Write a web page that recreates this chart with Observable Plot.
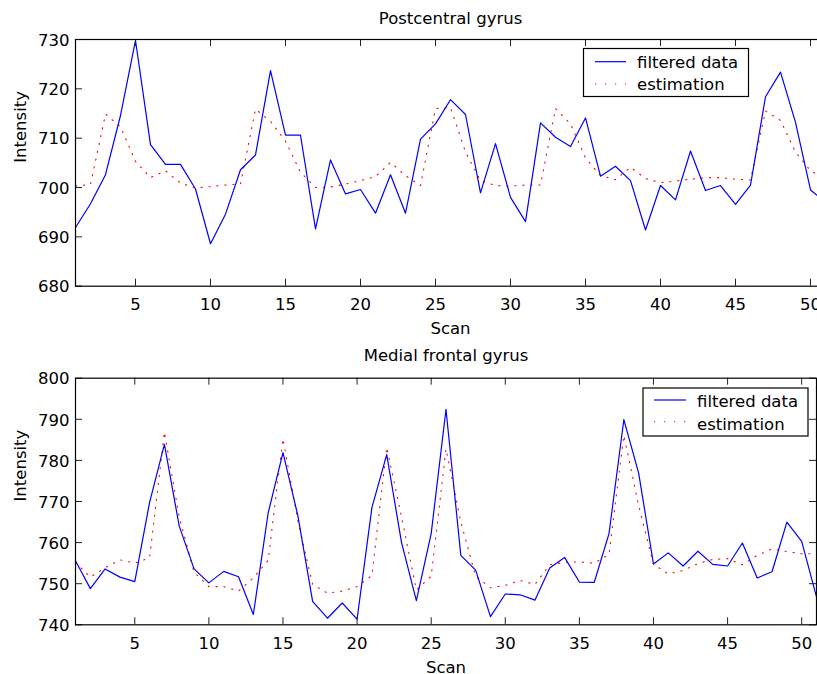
<!DOCTYPE html>
<html><head><meta charset="utf-8">
<script src="https://cdn.jsdelivr.net/npm/d3@7"></script>
<script src="https://cdn.jsdelivr.net/npm/@observablehq/plot@0.6"></script>
<style>
body{margin:0;background:#fff;overflow:hidden}
#page{position:relative;width:817px;height:674px;overflow:hidden;font-family:"DejaVu Sans",sans-serif;background:#fff}
.panel{position:absolute;left:0;width:817px;overflow:hidden}
#legend{position:absolute;left:0;top:0}
</style></head><body><div id="page"></div>
<script>
const scans = [1,2,3,4,5,6,7,8,9,10,11,12,13,14,15,16,17,18,19,20,21,22,23,24,25,26,27,28,29,30,31,32,33,34,35,36,37,38,39,40,41,42,43,44,45,46,47,48,49,50,51];

const topFiltered = [691.9,696.7,702.6,714.6,729.8,708.7,704.7,704.7,699.7,688.6,694.6,703.6,706.6,723.7,710.6,710.6,691.6,705.6,698.7,699.6,694.8,702.6,694.8,709.8,712.9,717.8,714.8,698.9,708.9,698.0,693.1,713.1,710.2,708.3,714.1,702.3,704.3,701.4,691.4,700.4,697.5,707.4,699.4,700.4,696.6,700.5,718.4,723.4,713.2,699.5,697.0];
const topEstimation = [700.3,700.6,714.9,712.3,705.3,702.0,703.4,700.9,699.9,700.2,700.5,700.7,715.9,713.4,709.4,703.1,700.0,700.1,700.7,701.4,702.2,705.1,702.4,700.4,716.0,716.2,707.2,701.4,700.4,700.3,700.5,700.5,716.0,712.9,706.0,702.4,701.6,704.1,701.8,701.0,701.3,701.7,702.0,702.0,701.7,701.5,715.5,713.6,707.2,703.4,701.8];

const bottomFiltered = [755.6,748.8,753.6,751.6,750.5,769.8,783.9,764.0,753.6,750.2,753.0,751.7,742.5,767.2,781.9,766.6,745.7,741.6,745.3,741.4,768.5,781.4,760.0,745.9,762.2,792.4,756.9,753.3,742.0,747.5,747.3,746.0,753.8,756.4,750.4,750.3,762.2,789.9,776.9,754.8,757.5,754.3,757.9,754.7,754.3,759.9,751.4,752.9,765.0,760.3,746.8];
const bottomEstimation = [755.2,751.6,753.9,755.8,755.0,756.3,786.9,766.2,752.8,749.3,749.3,748.2,751.4,755.7,785.3,765.4,749.8,747.7,748.2,749.3,752.0,783.2,766.2,748.5,751.8,782.8,765.0,751.8,749.0,749.6,750.8,749.8,754.6,755.2,755.3,755.0,757.1,786.1,769.0,754.7,752.4,753.2,754.9,755.9,756.1,754.6,756.9,758.5,757.8,757.3,757.3];

const xTicks = [5,10,15,20,25,30,35,40,45,50];
const topYTicks = [680,690,700,710,720,730];
const bottomYTicks = [740,750,760,770,780,790,800];
const seriesNames = ["filtered data","estimation"];
const panelTitles = ["Postcentral gyrus","Medial frontal gyrus"];
const xLabel = "Scan";
const yLabel = "Intensity";

function panel(o) {
  const rows = scans.map((s,i)=>({scan:s, f:o.filtered[i], e:o.estimation[i]}));
  const plotH = o.height - o.mt - o.mb;
  const plotW = o.width - 75 - o.mr;
  return Plot.plot({
    width:o.width, height:o.height,
    marginLeft:75, marginRight:o.mr, marginTop:o.mt, marginBottom:o.mb,
    style:{fontFamily:"DejaVu Sans", fontSize:"16.5px", background:"white", color:"black", maxWidth:"none", overflow:"visible"},
    x:{domain:[1,51], axis:null},
    y:{domain:o.yDomain, axis:null},
    marks:[
      Plot.line(rows,{x:"scan",y:"e",stroke:"#ff0000",strokeWidth:1.1,strokeDasharray:"1.2 6.8"}),
      Plot.line(rows,{x:"scan",y:"f",stroke:"#0000ff",strokeWidth:1.2}),
      Plot.tickX(xTicks,{x:d=>d, insetTop:plotH-7, stroke:"#222"}),
      Plot.tickX(xTicks,{x:d=>d, insetBottom:plotH-7, stroke:"#222"}),
      Plot.tickY(o.yTicks,{y:d=>d, insetRight:plotW-7, stroke:"#222"}),
      Plot.tickY(o.yTicks,{y:d=>d, insetLeft:plotW-7, stroke:"#222"}),
      Plot.frame({stroke:"black", strokeWidth:1.2}),
      Plot.text(xTicks,{x:d=>d, text:d=>String(d), frameAnchor:"bottom", dy:18.7, lineAnchor:"middle", fill:"black"}),
      Plot.text(o.yTicks,{y:d=>d, text:d=>String(d), frameAnchor:"left", dx:-6, dy:1, textAnchor:"end", lineAnchor:"middle", fill:"black"}),
      Plot.text([o.title],{frameAnchor:"top", dy:o.titleDy, lineAnchor:"middle", fill:"black"}),
      Plot.text([xLabel],{frameAnchor:"bottom", dy:o.xLabelDy, lineAnchor:"middle", fill:"black"}),
      Plot.text([yLabel],{frameAnchor:"left", dx:-55, rotate:-90, lineAnchor:"middle", fill:"black"})
    ]
  });
}

const page = document.getElementById("page");

const topDiv = document.createElement("div");
topDiv.className = "panel"; topDiv.style.top = "0px"; topDiv.style.height = "340px";
topDiv.appendChild(panel({filtered:topFiltered, estimation:topEstimation, yDomain:[680,730], yTicks:topYTicks,
  title:panelTitles[0], width:825, height:340, mt:39, mb:54.3, mr:0, titleDy:-20.5, xLabelDy:43}));
page.appendChild(topDiv);

const botDiv = document.createElement("div");
botDiv.className = "panel"; botDiv.style.top = "340px"; botDiv.style.height = "334px";
botDiv.appendChild(panel({filtered:bottomFiltered, estimation:bottomEstimation, yDomain:[740,800], yTicks:bottomYTicks,
  title:panelTitles[1], width:817, height:334, mt:37.7, mb:49.7, mr:1, titleDy:-22, xLabelDy:42.5}));
page.appendChild(botDiv);

// legends
const svg = d3.select(page).append("svg").attr("id","legend").attr("width",817).attr("height",674)
  .style("font-family","DejaVu Sans").style("font-size","16.5px");
const legends = [
  {x0:583.5, y0:48.5, w:165, h:48, lx1:595, lx2:626, tx:637, ly:[61.7,84], by:[68,90.3]},
  {x0:643, y0:388, w:165, h:48, lx1:654, lx2:686, tx:697, ly:[400,421.7], by:[407.3,430]}
];
for (const L of legends) {
  svg.append("rect").attr("x",L.x0).attr("y",L.y0).attr("width",L.w).attr("height",L.h)
    .attr("fill","white").attr("stroke","black").attr("stroke-width",1.2);
  svg.append("line").attr("x1",L.lx1).attr("x2",L.lx2).attr("y1",L.ly[0]).attr("y2",L.ly[0])
    .attr("stroke","#0000ff").attr("stroke-width",1.2);
  svg.append("line").attr("x1",L.lx1).attr("x2",L.lx2).attr("y1",L.ly[1]).attr("y2",L.ly[1])
    .attr("stroke","#ff0000").attr("stroke-width",1.1).attr("stroke-dasharray","1.2 8.8");
  seriesNames.forEach((n,i)=>{
    svg.append("text").attr("x",L.tx).attr("y",L.by[i]).attr("fill","black").text(n);
  });
}
</script></body></html>
